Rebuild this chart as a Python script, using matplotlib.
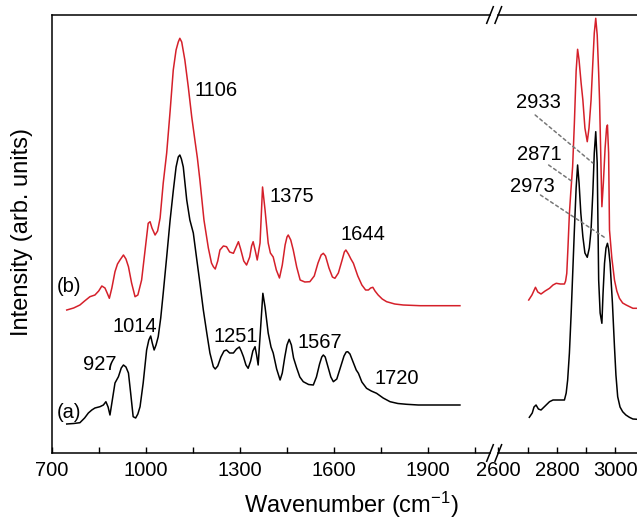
import numpy as np
import matplotlib
matplotlib.use("Agg")
import matplotlib.pyplot as plt
from matplotlib.ticker import FixedLocator

plt.rcParams['font.family'] = ['Liberation Sans', 'DejaVu Sans']
plt.rcParams['mathtext.fontset'] = 'custom'
plt.rcParams['mathtext.rm'] = 'Liberation Sans'
plt.rcParams['mathtext.default'] = 'regular'

# spectrum (a), 700-2100 cm-1
wn_a_low = [748, 770, 790, 805, 817, 828, 838, 854, 865, 873, 880, 886, 893, 902, 913, 922, 929, 937,
            945, 952, 960, 968, 975, 982, 992, 1003, 1010, 1016, 1021, 1027, 1033, 1040, 1048, 1056,
            1067, 1078, 1088, 1097, 1104, 1109, 1114, 1120, 1131, 1141, 1152, 1162, 1173, 1184, 1195,
            1205, 1216, 1222, 1230, 1240, 1250, 1258, 1268, 1280, 1290, 1299, 1305, 1312, 1320, 1327,
            1335, 1342, 1349, 1354, 1359, 1367, 1374, 1381, 1391, 1400, 1407, 1418, 1429, 1436, 1444,
            1451, 1458, 1465, 1472, 1482, 1492, 1503, 1520, 1535, 1545, 1555, 1562, 1567, 1573, 1582,
            1591, 1599, 1610, 1622, 1633, 1640, 1645, 1652, 1662, 1672, 1679, 1690, 1705, 1720, 1737,
            1758, 1780, 1805, 1833, 1870, 1918, 2003]
int_a_low = [29, 29.5, 30.3, 35, 40, 43, 45, 46.3, 48, 51.3, 46, 38, 52, 70, 76.3, 85, 88, 86,
             80, 60, 36.3, 35, 39, 46.3, 70, 103, 113, 117, 110, 103, 108, 116.3, 135, 160,
             196, 233, 262, 286, 296, 298, 294, 286, 253, 233, 220, 196, 170, 143, 120,
             100, 86.3, 84, 87, 96, 102, 103, 100, 100, 104, 106, 102, 96.3, 88, 84.7,
             92, 102, 106.3, 98, 88, 126, 159.7, 146, 120, 106, 100, 84, 73, 80, 96,
             108, 113.7, 108, 95, 85, 76, 71.3, 68.5, 68, 76, 89, 96, 98, 96, 86,
             76, 71.3, 74, 86, 97, 101, 101.3, 99, 91, 83, 79.7, 71, 64.7, 62, 59.7,
             55, 51.3, 49.5, 48.7, 48, 48, 48]

# spectrum (b), 700-2100 cm-1
wn_b_low = [748, 770, 790, 805, 822, 838, 850, 860, 865, 870, 877, 884, 892, 902, 910, 918, 929, 937,
            945, 955, 966, 975, 987, 997, 1008, 1014, 1020, 1030, 1038, 1046, 1056, 1067, 1078, 1088,
            1097, 1104, 1109, 1115, 1125, 1136, 1147, 1157, 1165, 1173, 1186, 1200, 1210, 1216, 1222,
            1230, 1237, 1248, 1258, 1268, 1280, 1290, 1296, 1303, 1313, 1322, 1332, 1338, 1343, 1350,
            1356, 1365, 1373, 1381, 1391, 1398, 1407, 1417, 1427, 1436, 1445, 1451, 1455, 1463, 1471,
            1482, 1493, 1508, 1524, 1538, 1550, 1560, 1567, 1574, 1585, 1596, 1604, 1615, 1627, 1634,
            1639, 1647, 1655, 1663, 1677, 1690, 1702, 1711, 1718, 1725, 1732, 1742, 1755, 1769, 1795,
            1822, 1876, 1950, 2003]
int_b_low = [143, 145, 148, 152, 156.3, 158, 162, 167, 166, 165, 160, 154.7, 165, 181.3, 189, 193, 198, 194,
             186.3, 170, 156.3, 158, 173, 200, 229.7, 231.3, 225, 218, 222, 235, 270, 300, 342, 383,
             403, 411, 414.7, 411, 393, 366, 336, 313, 295, 273, 233, 205, 190, 186.3, 184,
             192, 203, 207, 206.3, 201, 199.7, 207, 211.3, 204, 192, 188, 196, 207, 211.3, 202,
             193, 210, 266, 243, 210, 200, 196, 183, 175, 188, 208, 216, 218, 213, 203,
             186, 173, 171, 171.3, 177, 190, 198, 199.7, 197, 185, 176, 174.7, 180, 193, 201,
             203, 199, 194, 189.7, 177, 168, 163, 163, 165, 165.7, 162, 158, 154, 151.3, 149,
             148, 147.3, 147.3, 147.3]

# spectrum (a), C-H region
wn_a_high = [2706, 2716, 2722, 2729, 2737, 2746, 2760, 2775, 2787, 2798, 2812, 2826, 2832, 2837,
             2843, 2849, 2855, 2860, 2866, 2871, 2876, 2882, 2889, 2896, 2904, 2911, 2917, 2923,
             2928, 2933, 2938, 2943, 2948, 2954, 2958, 2963, 2968, 2973, 2977, 2982, 2990, 2997,
             3002, 3008, 3016, 3025, 3036, 3048, 3060, 3075]
int_a_high = [35.7, 40, 46, 48, 44, 43, 47, 51.3, 53, 53, 53, 53, 60, 73,
              100, 139.7, 185, 223, 265, 288, 270, 240, 216.3, 200, 195.7, 205, 223, 260,
              300, 321.3, 290, 173, 140, 129.7, 160, 189.7, 205, 209.7, 204, 189.7, 150, 106.3,
              78, 56.3, 46, 41.3, 38, 35.7, 34, 33.7]

# spectrum (b), C-H region
wn_b_high = [2704, 2715, 2727, 2735, 2746, 2760, 2775, 2787, 2798, 2812, 2826, 2830, 2834, 2838,
             2843, 2848, 2854, 2860, 2866, 2871, 2876, 2883, 2889, 2896, 2904, 2910, 2917, 2923,
             2928, 2933, 2938, 2943, 2946, 2950, 2954, 2959, 2965, 2970, 2973, 2977, 2980, 2988,
             2997, 3005, 3014, 3025, 3037, 3060, 3075]
int_b_high = [153, 158, 165.7, 161, 159, 162, 164.7, 168, 169.7, 169, 169, 172, 179.7, 205,
              239.7, 262, 286.3, 330, 382, 403.7, 393, 370, 353, 325, 311.3, 325, 353, 390,
              420, 434.7, 418, 380, 353, 300, 246.3, 270, 305, 325, 328, 300, 223, 195,
              173, 162, 154.7, 150, 148, 144.7, 144.7]

low_labels = [("1106", 1157, 363), ("1375", 1394, 256), ("1644", 1622, 218), ("1014", 895, 126),
              ("927", 801, 88), ("1251", 1215, 116), ("1567", 1486, 110), ("1720", 1729, 75)]

red = '#d5202a'
fs = 14.5

fig = plt.figure(figsize=(6.37, 5.19), dpi=100)
W, H = 637.0, 519.0
bot = 1 - 453 / H
hgt = (453 - 15) / H
ax1 = fig.add_axes([51.7 / W, bot, (490 - 51.7) / W, hgt])
ax2 = fig.add_axes([498.3 / W, bot, (637 - 498.3) / W, hgt])

ax1.plot(wn_a_low, int_a_low, color='black', lw=1.1)
ax1.plot(wn_b_low, int_b_low, color=red, lw=1.1)
ax2.plot(wn_a_high, int_a_high, color='black', lw=1.1)
ax2.plot(wn_b_high, int_b_high, color=red, lw=1.1)

ax1.set_xlim(700, 2099)
ax2.set_xlim(2600, 3074)
for ax in (ax1, ax2):
    ax.set_ylim(0, 438)
    ax.set_yticks([])
    ax.tick_params(axis='x', which='both', direction='in', length=4, width=1,
                   labelsize=fs, pad=6, top=False)
    for s in ax.spines.values():
        s.set_linewidth(1.1)

ax1.spines['right'].set_visible(False)
ax2.spines['left'].set_visible(False)
ax2.spines['right'].set_visible(False)

ax1.set_xticks([700, 1000, 1300, 1600, 1900])
ax1.xaxis.set_minor_locator(FixedLocator([850, 1150, 1450, 1750, 2050]))
ax2.set_xticks([2600, 2800, 3000])
ax2.xaxis.set_minor_locator(FixedLocator([2700, 2900]))

# break marks
for ax, x0, wpx in ((ax1, 1.0, 490 - 51.7), (ax2, 0.0, 637 - 498.3)):
    dx = 3.3 / wpx
    dy = 8.3 / 438
    for yy in (0, 1):
        ax.plot([x0 - dx, x0 + dx], [yy - dy, yy + dy], color='black', lw=1.1,
                transform=ax.transAxes, clip_on=False)

for txt, x, y in low_labels:
    ax1.text(x, y, txt, fontsize=fs, ha='left', va='center')
ax1.text(717, 41, "(a)", fontsize=fs, ha='left', va='center')
ax1.text(717, 166, "(b)", fontsize=fs, ha='left', va='center')

dash = dict(arrowstyle='-', color='#777777', lw=1.1, linestyle=(0, (2, 2)), shrinkA=0, shrinkB=0)
ax2.text(2738, 350, "2933", fontsize=fs, ha='center', va='center')
ax2.annotate("", xy=(2923, 290), xytext=(2726, 338), arrowprops=dash)
ax2.text(2740, 299, "2871", fontsize=fs, ha='center', va='center')
ax2.annotate("", xy=(2855, 271), xytext=(2772, 288), arrowprops=dash)
ax2.text(2717, 266, "2973", fontsize=fs, ha='center', va='center')
ax2.annotate("", xy=(2966, 215), xytext=(2744, 258), arrowprops=dash)

fig.text(22 / W, 1 - 232 / H, "Intensity (arb. units)", fontsize=17, rotation=90,
         ha='center', va='center')
fig.text(351 / W, 1 - 505 / H, "Wavenumber (cm$^{-1}$)", fontsize=17, ha='center', va='center')

fig.savefig("out.png", dpi=100)
